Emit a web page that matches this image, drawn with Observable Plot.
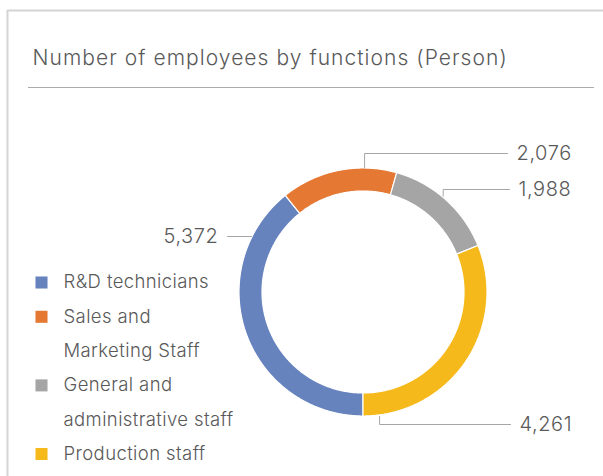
<!DOCTYPE html>
<html>
<head>
<meta charset="utf-8">
<script src="https://cdn.jsdelivr.net/npm/d3@7"></script>
<script src="https://cdn.jsdelivr.net/npm/@observablehq/plot@0.6"></script>
<style>
  html, body { margin: 0; padding: 0; background: #fff; }
  #chart svg { display: block; }
</style>
</head>
<body>
<div id="chart"></div>
<script>
// ---- data ----
const title = "Number of employees by functions (Person)";
const categories = ["R&D technicians", "Sales and Marketing Staff", "General and administrative staff", "Production staff"];
const values = [5372, 2076, 1988, 4261];
const legendLines = [["R&D technicians"], ["Sales and", "Marketing Staff"], ["General and", "administrative staff"], ["Production staff"]];
const colors = ["#6783BD", "#E57934", "#A5A5A5", "#F5B91C"];

// ---- layout ----
const W = 603, H = 476;
const cx = 363, cy = 292, R = 124, r = 101;
const font = "Inter, 'Open Sans', sans-serif";
const textColor = "#595959";
// label leader anchors (degrees clockwise from 12 o'clock), label row y, leader end x
const labelAnchorDeg = [296.6, 0.5, 39.6, 172.6];
const labelRowY = [236, 153, 189, 424];
const leaderEndX = [227, 507, 509, 510];

const fmt = d3.format(",");
const arcs = d3.pie().sort(null).startAngle(Math.PI).endAngle(3 * Math.PI)(values);

const ring = [];
arcs.forEach((a, i) => {
  const n = Math.max(8, Math.ceil((a.endAngle - a.startAngle) / (Math.PI / 360)));
  for (let k = 0; k <= n; k++) {
    const t = a.startAngle + (a.endAngle - a.startAngle) * k / n;
    ring.push({cat: categories[i], x1: cx + R * Math.sin(t), y1: cy - R * Math.cos(t), x2: cx + r * Math.sin(t), y2: cy - r * Math.cos(t)});
  }
});

const leaders = [];
const labels = [];
categories.forEach((c, i) => {
  const t = labelAnchorDeg[i] * Math.PI / 180;
  const ax = cx + (R + 1) * Math.sin(t), ay = cy - (R + 1) * Math.cos(t);
  const ly = labelRowY[i], ex = leaderEndX[i];
  leaders.push({cat: c, x: ax, y: ay}, {cat: c, x: ax, y: ly}, {cat: c, x: ex, y: ly});
  const left = ex < ax;
  labels.push({cat: c, left, x: left ? ex - 9 : ex + 9, y: ly, text: fmt(values[i])});
});

const legendRows = [];
let row = 0;
legendLines.forEach((lines, i) => {
  lines.forEach((line, j) => {
    legendRows.push({cat: categories[i], first: j === 0, x: 63, y: 282 + row * 34.3, text: line});
    row++;
  });
});

const labelStyle = {x: "x", y: "y", text: "text", fontSize: 20, fontWeight: 300, fill: textColor};

const chart = Plot.plot({
  width: W, height: H,
  margin: 0,
  x: {type: "linear", domain: [0, W], range: [0, W], axis: null},
  y: {type: "linear", domain: [0, H], range: [0, H], axis: null},
  color: {type: "ordinal", domain: categories, range: colors},
  style: {fontFamily: font, background: "#fff", overflow: "visible"},
  marks: [
    // card border
    Plot.ruleY([10], {x1: 7, x2: W, stroke: "#d4d4d4", strokeWidth: 2}),
    Plot.ruleX([7], {y1: 10, y2: H, stroke: "#d4d4d4", strokeWidth: 2}),
    // title and underline
    Plot.text([title], {x: 32, y: 58, text: d => d, textAnchor: "start", fontSize: 21, fontWeight: 300, fill: textColor}),
    Plot.ruleY([87], {x1: 28, x2: 594, stroke: "#ababab", strokeWidth: 1}),
    // donut
    Plot.area(ring, {x1: "x1", y1: "y1", x2: "x2", y2: "y2", z: "cat", fill: "cat", stroke: "white", strokeWidth: 1.2, curve: "linear"}),
    // leaders and labels
    Plot.line(leaders, {x: "x", y: "y", z: "cat", stroke: "#a6a6a6", strokeWidth: 1}),
    Plot.text(labels.filter(d => d.left), {...labelStyle, textAnchor: "end"}),
    Plot.text(labels.filter(d => !d.left), {...labelStyle, textAnchor: "start"}),
    // legend
    Plot.dot(legendRows.filter(d => d.first), {x: 41, y: "y", symbol: "square", r: 6.8, fill: "cat", stroke: null}),
    Plot.text(legendRows, {x: "x", y: "y", text: "text", textAnchor: "start", fontSize: 18.5, fontWeight: 300, fill: textColor})
  ]
});

// letter spacing to mimic the wider original typeface
const labelTexts = new Set(labels.map(d => d.text));
const legendTexts = new Set(legendRows.map(d => d.text));
d3.select(chart).selectAll("text").each(function () {
  const t = this.textContent;
  let ls = null;
  if (t === title) ls = "1.05px";
  else if (labelTexts.has(t)) ls = "0.6px";
  else if (legendTexts.has(t)) ls = "0.4px";
  if (ls) this.style.letterSpacing = ls;
});

document.getElementById("chart").appendChild(chart);
</script>
</body>
</html>
